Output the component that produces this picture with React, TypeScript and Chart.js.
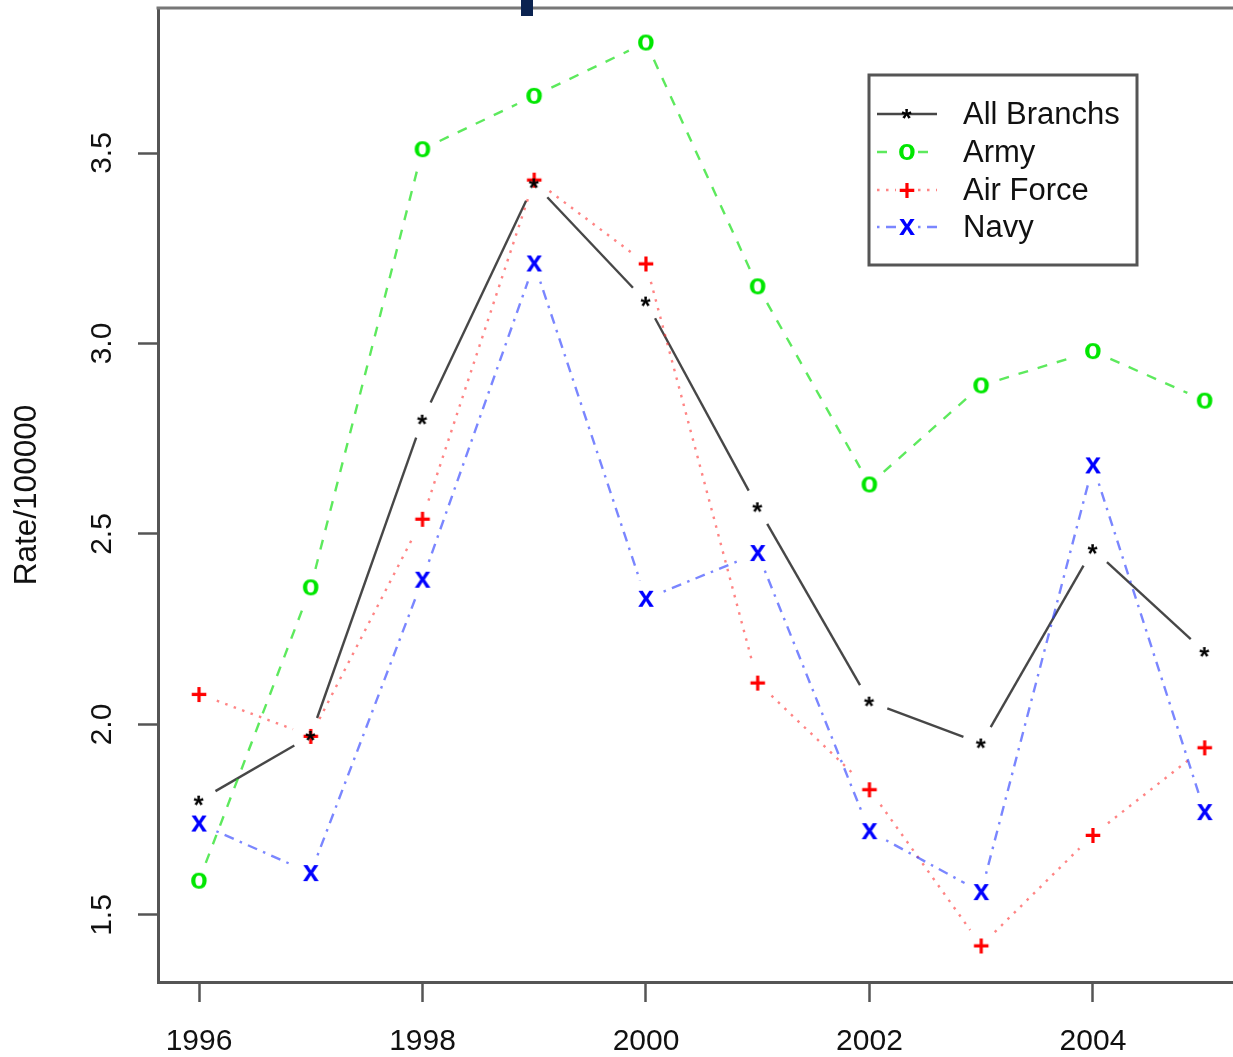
import { useEffect, useRef } from "react";
import { Chart, registerables } from "chart.js";

Chart.register(...registerables);

// Annual rates per 100000 by service branch
const years = [1996, 1997, 1998, 1999, 2000, 2001, 2002, 2003, 2004, 2005];
const allBranchs = [1.8, 1.97, 2.8, 3.42, 3.11, 2.57, 2.06, 1.95, 2.46, 2.19];
const army = [1.59, 2.36, 3.51, 3.65, 3.79, 3.15, 2.63, 2.89, 2.98, 2.85];
const airForce = [2.08, 1.97, 2.54, 3.43, 3.21, 2.11, 1.83, 1.42, 1.71, 1.94];
const navy = [1.74, 1.61, 2.38, 3.21, 2.33, 2.45, 1.72, 1.56, 2.68, 1.77];
const seriesNames = ["All Branchs", "Army", "Air Force", "Navy"];
const xTicks = [1996, 1998, 2000, 2002, 2004];
const yTicks = [1.5, 2.0, 2.5, 3.0, 3.5];
const yTickLabels = ["1.5", "2.0", "2.5", "3.0", "3.5"];
const yTitle = "Rate/100000";

const FONT = '"Liberation Sans", Arial, Helvetica, sans-serif';
const AXIS_COLOR = "#555";

const seriesStyles = [
  { line: "rgba(0,0,0,0.72)", dash: [] as number[], glyph: "*", color: "#000000", weight: "bold", size: 26 },
  { line: "rgba(30,225,30,0.72)", dash: [10, 10], glyph: "o", color: "#00e600", weight: "bold", size: 29 },
  { line: "rgba(255,50,50,0.6)", dash: [2.5, 6.5], glyph: "+", color: "#ff0000", weight: "bold", size: 29 },
  { line: "rgba(40,60,255,0.62)", dash: [2.5, 6.5, 10, 6.5], glyph: "x", color: "#0000ff", weight: "bold", size: 29 },
];

// Render a plotting character into a small canvas, centred on its ink box
function glyphMarker(ch: string, color: string, size: number, weight: string): HTMLCanvasElement {
  const c = document.createElement("canvas");
  c.width = 40;
  c.height = 40;
  const ctx = c.getContext("2d")!;
  ctx.font = `${weight} ${size}px ${FONT}`;
  ctx.fillStyle = color;
  ctx.textAlign = "left";
  ctx.textBaseline = "alphabetic";
  const m = ctx.measureText(ch);
  const w = m.actualBoundingBoxLeft + m.actualBoundingBoxRight;
  const h = m.actualBoundingBoxAscent + m.actualBoundingBoxDescent;
  ctx.fillText(ch, 20 - w / 2 + m.actualBoundingBoxLeft, 20 - h / 2 + m.actualBoundingBoxAscent);
  return c;
}

const GAP = 19;

// Line segments that stop short of each point ("both" style)
const gappedLines = {
  id: "gappedLines",
  beforeDatasetsDraw(chart: any) {
    const ctx = chart.ctx as CanvasRenderingContext2D;
    chart.data.datasets.forEach((_ds: any, i: number) => {
      const pts = chart.getDatasetMeta(i).data;
      const st = seriesStyles[i];
      ctx.save();
      ctx.strokeStyle = st.line;
      ctx.lineWidth = 2.4;
      ctx.lineCap = "butt";
      ctx.setLineDash(st.dash);
      for (let k = 0; k + 1 < pts.length; k++) {
        const a = pts[k];
        const b = pts[k + 1];
        const dx = b.x - a.x;
        const dy = b.y - a.y;
        const len = Math.hypot(dx, dy);
        if (len <= 2 * GAP) continue;
        const ux = dx / len;
        const uy = dy / len;
        ctx.beginPath();
        ctx.moveTo(a.x + ux * GAP, a.y + uy * GAP);
        ctx.lineTo(b.x - ux * GAP, b.y - uy * GAP);
        ctx.stroke();
      }
      ctx.restore();
    });
  },
};

// Frame top edge, rotated y tick labels, legend box
const decorations = {
  id: "decorations",
  afterDraw(chart: any) {
    const ctx = chart.ctx as CanvasRenderingContext2D;
    const area = chart.chartArea;
    const yScale = chart.scales.y;

    ctx.save();
    ctx.strokeStyle = "#777";
    ctx.lineWidth = 3;
    ctx.beginPath();
    ctx.moveTo(area.left - 1.5, area.top);
    ctx.lineTo(chart.width, area.top);
    ctx.stroke();

    ctx.fillStyle = "#0b2350";
    ctx.fillRect(521, 0, 12, 16);

    // y tick labels, reading upward
    ctx.fillStyle = "#111";
    ctx.font = `30px ${FONT}`;
    ctx.textAlign = "center";
    ctx.textBaseline = "middle";
    yTicks.forEach((v, i) => {
      const py = yScale.getPixelForValue(v);
      ctx.save();
      ctx.translate(103, py);
      ctx.rotate(-Math.PI / 2);
      ctx.fillText(yTickLabels[i], 0, 0);
      ctx.restore();
    });

    // legend
    const bx = 869;
    const by = 75;
    const bw = 268;
    const bh = 190;
    ctx.fillStyle = "#ffffff";
    ctx.fillRect(bx, by, bw, bh);
    ctx.strokeStyle = AXIS_COLOR;
    ctx.lineWidth = 3;
    ctx.strokeRect(bx, by, bw, bh);
    const rowY = [114, 152, 190, 227];
    seriesNames.forEach((name, i) => {
      const st = seriesStyles[i];
      const y = rowY[i];
      ctx.save();
      ctx.strokeStyle = st.line;
      ctx.lineWidth = 2.4;
      ctx.setLineDash(st.dash);
      ctx.beginPath();
      if (i === 0) {
        ctx.moveTo(877, y);
        ctx.lineTo(937, y);
      } else {
        ctx.moveTo(877, y);
        ctx.lineTo(896, y);
        ctx.moveTo(918, y);
        ctx.lineTo(937, y);
      }
      ctx.stroke();
      ctx.restore();
      const mk = chart.data.datasets[i].pointStyle as HTMLCanvasElement;
      ctx.drawImage(mk, 907 - mk.width / 2, y - mk.height / 2);
      ctx.fillStyle = "#111";
      ctx.textAlign = "left";
      ctx.textBaseline = "middle";
      ctx.font = `31px ${FONT}`;
      ctx.fillText(name, 963, y + 1);
    });
    ctx.restore();
  },
};

export default function App() {
  const canvasRef = useRef<HTMLCanvasElement | null>(null);

  useEffect(() => {
    document.body.style.margin = "0";
    const canvas = canvasRef.current;
    if (!canvas) return;
    const series = [allBranchs, army, airForce, navy];
    const chart = new Chart(canvas, {
      type: "scatter",
      data: {
        datasets: series.map((vals, i) => ({
          label: seriesNames[i],
          data: vals.map((v, k) => ({ x: years[k], y: v })),
          showLine: false,
          pointStyle: glyphMarker(seriesStyles[i].glyph, seriesStyles[i].color, seriesStyles[i].size, seriesStyles[i].weight),
          pointRadius: 6,
          pointHoverRadius: 6,
        })),
      },
      options: {
        animation: false,
        responsive: false,
        events: [],
        layout: { autoPadding: false, padding: { top: 8, right: 0, bottom: 0, left: 0 } },
        plugins: { legend: { display: false }, tooltip: { enabled: false } },
        scales: {
          x: {
            type: "linear",
            min: 1995.633,
            max: 2005.253,
            afterBuildTicks: (s: any) => {
              s.ticks = xTicks.map((v) => ({ value: v }));
            },
            afterFit: (s: any) => {
              s.height = 75;
              s.paddingLeft = 0;
              s.paddingRight = 0;
            },
            grid: {
              display: true,
              drawOnChartArea: false,
              drawTicks: true,
              tickLength: 20,
              tickWidth: 2.5,
              tickColor: AXIS_COLOR,
            },
            border: { display: true, color: AXIS_COLOR, width: 3 },
            ticks: {
              font: { family: FONT, size: 30 },
              color: "#111",
              padding: 22,
              maxRotation: 0,
              autoSkip: false,
              callback: (v: any) => String(v),
            },
          },
          y: {
            type: "linear",
            min: 1.3241,
            max: 3.8806,
            afterBuildTicks: (s: any) => {
              s.ticks = yTicks.map((v) => ({ value: v }));
            },
            afterFit: (s: any) => {
              s.width = 158;
            },
            grid: {
              display: true,
              drawOnChartArea: false,
              drawTicks: true,
              tickLength: 20,
              tickWidth: 2.5,
              tickColor: AXIS_COLOR,
            },
            border: { display: true, color: AXIS_COLOR, width: 3 },
            ticks: { display: false },
            title: {
              display: true,
              text: yTitle,
              color: "#111",
              font: { family: FONT, size: 31.5 },
              padding: { top: 8, bottom: 0 },
            },
          },
        },
      },
      plugins: [gappedLines, decorations],
    });
    return () => chart.destroy();
  }, []);

  return (
    <div style={{ width: 1233, height: 1057 }}>
      <canvas ref={canvasRef} width={1233} height={1057} style={{ display: "block" }} />
    </div>
  );
}
